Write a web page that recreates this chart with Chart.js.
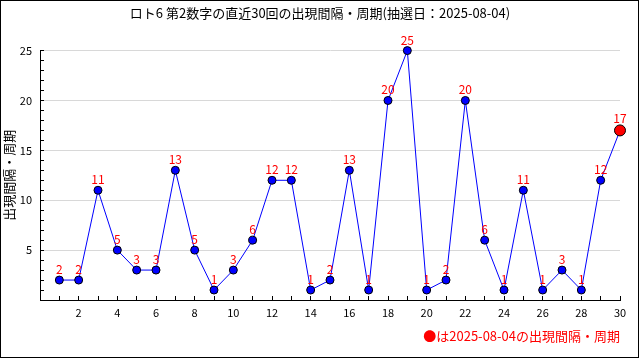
<!DOCTYPE html>
<html>
<head>
<meta charset="utf-8">
<script src="https://cdn.jsdelivr.net/npm/chart.js@4"></script>
<style>
  html, body { margin: 0; padding: 0; background: #fff; }
  #wrap { width: 640px; height: 360px; }
</style>
</head>
<body>
<div id="wrap"><canvas id="chart" width="640" height="360"></canvas></div>
<script>
// 直近30回（古い順）
const drawNo = [1, 2, 3, 4, 5, 6, 7, 8, 9, 10, 11, 12, 13, 14, 15, 16, 17, 18, 19, 20, 21, 22, 23, 24, 25, 26, 27, 28, 29, 30];
const gaps = [2, 2, 11, 5, 3, 3, 13, 5, 1, 3, 6, 12, 12, 1, 2, 13, 1, 20, 25, 1, 2, 20, 6, 1, 11, 1, 3, 1, 12, 17];

const titleText = 'ロト6 第2数字の直近30回の出現間隔・周期(抽選日：2025-08-04)';
const yTitle = '出現間隔・周期';
const noteText = '●は2025-08-04の出現間隔・周期';

const FONT = "'Noto Sans CJK JP', 'DejaVu Sans', sans-serif";
const last = gaps.length - 1;

// 外枠と白背景
const framePlugin = {
  id: 'frame',
  beforeDraw(chart) {
    const c = chart.ctx;
    c.save();
    c.fillStyle = '#fff';
    c.fillRect(0, 0, chart.width, chart.height);
    c.restore();
  },
  afterDraw(chart) {
    const c = chart.ctx;
    c.save();
    c.strokeStyle = '#000';
    c.lineWidth = 1;
    c.strokeRect(0.5, 0.5, chart.width - 2, chart.height - 3);
    c.restore();
  }
};

// 点の上の数値ラベル
const valueLabels = {
  id: 'valueLabels',
  afterDatasetsDraw(chart) {
    const c = chart.ctx;
    const meta = chart.getDatasetMeta(0);
    c.save();
    c.font = '12px ' + FONT;
    c.fillStyle = '#ff0000';
    c.textAlign = 'center';
    c.textBaseline = 'alphabetic';
    meta.data.forEach((pt, i) => {
      const r = i === last ? 5.5 : 4;
      c.fillText(String(gaps[i]), pt.x, pt.y - r - 2);
    });
    c.restore();
  }
};

new Chart(document.getElementById('chart'), {
  type: 'line',
  data: {
    datasets: [{
      data: drawNo.map((n, i) => ({ x: n, y: gaps[i] })),
      borderColor: '#0000ff',
      borderWidth: 1,
      tension: 0,
      fill: false,
      pointRadius: gaps.map((v, i) => i === last ? 5.5 : 4),
      pointBackgroundColor: gaps.map((v, i) => i === last ? '#ff0000' : '#0000ff'),
      pointBorderColor: '#000',
      pointBorderWidth: 1,
      clip: false
    }]
  },
  options: {
    responsive: false,
    animation: false,
    layout: { padding: 0 },
    plugins: {
      legend: { display: false },
      tooltip: { enabled: false },
      title: {
        display: true,
        text: titleText,
        color: '#000',
        font: { family: FONT, size: 13, weight: 'normal' },
        padding: { top: 5, bottom: 30 }
      }
    },
    scales: {
      x: {
        type: 'linear',
        min: 0,
        max: 30,
        afterFit(s) { s.height = 60; },
        border: { color: '#000', width: 1 },
        grid: { drawOnChartArea: false, tickColor: '#000', tickLength: -4 },
        ticks: {
          stepSize: 1,
          autoSkip: false,
          maxRotation: 0,
          padding: 10,
          color: '#000',
          font: { family: FONT, size: 11 },
          callback: v => (v > 0 && v % 2 === 0) ? v : ''
        },
        title: {
          display: true,
          text: noteText,
          align: 'end',
          color: '#ff0000',
          font: { family: FONT, size: 13 },
          padding: { top: 0, bottom: 16 }
        }
      },
      y: {
        type: 'linear',
        min: 0,
        max: 25,
        afterFit(s) { s.width = 40; },
        border: { color: '#000', width: 1 },
        grid: {
          color: ctx => (ctx.tick && ctx.tick.value > 0 && ctx.tick.value % 5 === 0) ? '#d8d8d8' : 'rgba(0,0,0,0)',
          tickColor: '#000',
          tickLength: -4
        },
        ticks: {
          stepSize: 1,
          autoSkip: false,
          padding: 12,
          color: '#000',
          font: { family: FONT, size: 11 },
          callback: v => (v > 0 && v % 5 === 0) ? v : ''
        },
        title: {
          display: true,
          text: yTitle,
          color: '#000',
          font: { family: FONT, size: 13 },
          padding: { top: 1, bottom: 0 }
        }
      },
      yR: {
        type: 'linear',
        position: 'right',
        display: true,
        afterFit(s) { s.width = 20; },
        border: { display: false },
        grid: { display: false },
        ticks: { display: false }
      }
    }
  },
  plugins: [framePlugin, valueLabels]
});
</script>
</body>
</html>
